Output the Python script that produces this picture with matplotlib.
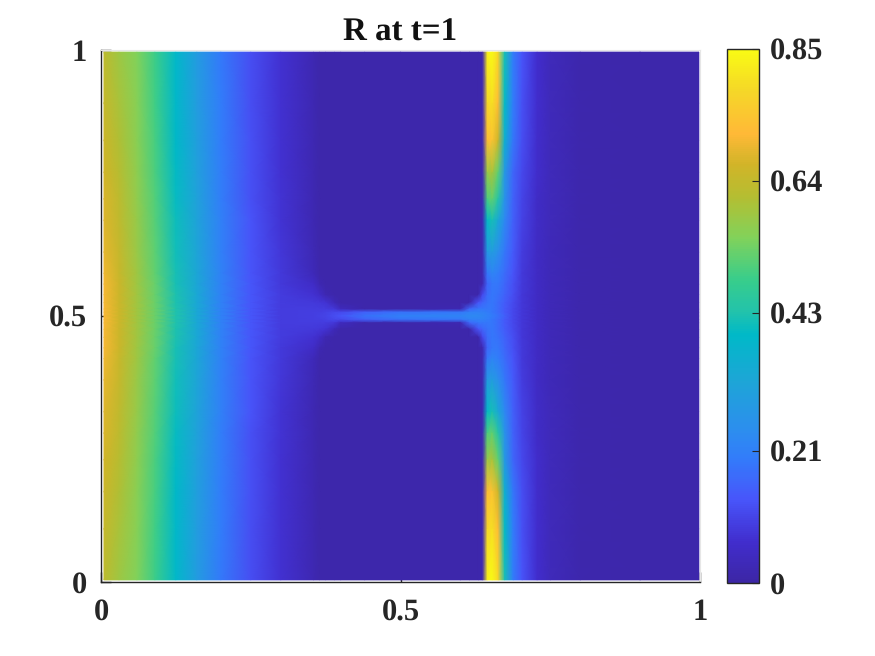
import numpy as np
import matplotlib.pyplot as plt
from matplotlib.colors import LinearSegmentedColormap

plt.rcParams['font.family'] = ['Liberation Serif', 'DejaVu Serif']
plt.rcParams['font.weight'] = 'bold'
plt.rcParams['text.hinting'] = 'no_hinting'

# Node positions
x_nodes = [0.005, 0.03, 0.06, 0.09, 0.125, 0.16, 0.2, 0.25, 0.3, 0.355,
           0.365, 0.375, 0.39, 0.40, 0.44, 0.5, 0.60, 0.615, 0.63, 0.637,
           0.645, 0.653, 0.663, 0.674, 0.688, 0.703, 0.728, 0.75, 0.8, 0.9, 0.998]
y_upper = [0.996, 0.9, 0.83, 0.77, 0.72, 0.68, 0.62, 0.58, 0.56, 0.54,
           0.525, 0.513, 0.507, 0.5]

# R values, top row down to the y=0.5 line (the lower half mirrors it)
R_upper = [
    [.63, .585, .55, .485, .39, .29, .195, .12, .07, .02, .01, .01, .01, .01, .01, .01, .01, .01, .01, .02, .83, .85, .78, .42, .20, .13, .065, .035, .015, .01, .01],
    [.645, .60, .555, .49, .39, .295, .20, .12, .07, .02, .01, .01, .01, .01, .01, .01, .01, .01, .01, .02, .78, .80, .72, .40, .20, .125, .065, .035, .015, .01, .01],
    [.655, .61, .56, .495, .395, .30, .20, .125, .07, .02, .01, .01, .01, .01, .01, .01, .01, .01, .01, .02, .72, .74, .66, .36, .19, .12, .06, .035, .015, .01, .01],
    [.665, .62, .565, .50, .40, .305, .205, .125, .07, .02, .01, .01, .01, .01, .01, .01, .01, .01, .01, .02, .58, .60, .52, .28, .16, .11, .06, .035, .015, .01, .01],
    [.675, .63, .57, .505, .405, .31, .205, .125, .075, .02, .01, .01, .01, .01, .01, .01, .01, .01, .01, .02, .50, .52, .44, .26, .155, .105, .055, .035, .015, .01, .01],
    [.68, .635, .575, .51, .41, .315, .21, .13, .075, .02, .01, .01, .01, .01, .01, .01, .01, .01, .01, .02, .40, .42, .33, .23, .15, .10, .055, .035, .015, .01, .01],
    [.69, .645, .58, .515, .415, .32, .21, .13, .08, .025, .01, .01, .01, .01, .01, .01, .01, .01, .01, .02, .28, .29, .25, .19, .14, .09, .05, .03, .015, .01, .01],
    [.70, .65, .585, .52, .42, .325, .215, .13, .085, .03, .01, .01, .01, .01, .01, .01, .01, .01, .01, .02, .19, .22, .20, .17, .13, .085, .05, .03, .015, .01, .01],
    [.705, .655, .585, .525, .42, .325, .215, .135, .085, .055, .02, .01, .01, .01, .01, .01, .01, .01, .01, .02, .16, .19, .19, .16, .125, .085, .05, .03, .015, .01, .01],
    [.705, .655, .59, .525, .425, .33, .215, .135, .09, .07, .055, .02, .01, .01, .01, .01, .01, .01, .01, .11, .17, .19, .18, .155, .12, .08, .05, .03, .015, .01, .01],
    [.705, .655, .59, .53, .425, .33, .215, .135, .09, .085, .08, .075, .03, .01, .01, .01, .01, .01, .13, .16, .18, .19, .17, .145, .115, .08, .05, .03, .015, .01, .01],
    [.71, .66, .59, .53, .43, .33, .215, .135, .09, .09, .09, .09, .08, .04, .01, .01, .02, .16, .19, .19, .19, .19, .17, .14, .11, .08, .05, .03, .015, .01, .01],
    [.71, .66, .59, .53, .43, .33, .215, .135, .09, .095, .095, .10, .11, .11, .15, .18, .19, .21, .21, .21, .20, .19, .17, .14, .11, .08, .05, .03, .015, .01, .01],
    [.71, .66, .59, .53, .43, .33, .215, .135, .09, .095, .10, .105, .12, .13, .18, .21, .22, .23, .23, .22, .21, .20, .18, .15, .11, .08, .05, .03, .015, .01, .01],
]

x_ticks = [0, 0.5, 1]
x_tick_labels = ['0', '0.5', '1']
y_ticks = [0, 0.5, 1]
y_tick_labels = ['0', '0.5', '1']
cbar_ticks = [0, 0.21, 0.43, 0.64, 0.85]
cbar_tick_labels = ['0', '0.21', '0.43', '0.64', '0.85']

# colormap stops
cmap_stops = [0.0, 0.075, 0.155, 0.235, 0.28, 0.375, 0.465, 0.51, 0.567, 0.648, 0.723, 0.786, 0.843, 0.923, 1.0]
cmap_colors = ['#3c26a5', '#412dcd', '#4855fa', '#327dfa', '#2d8cf0', '#1ea5d7', '#00b9c8',
               '#23c3aa', '#37cd8c', '#82d25a', '#b4be32', '#d2b428', '#ffb937', '#f5d728', '#f9fb14']
parula = LinearSegmentedColormap.from_list('parula', list(zip(cmap_stops, cmap_colors)), N=256)

upper = np.array(R_upper)
R = np.vstack([upper, upper[-2::-1]])
y_nodes = np.array(y_upper + [1 - v for v in y_upper[-2::-1]])

dark = '#262626'
fig = plt.figure(figsize=(8.75, 6.56), dpi=100)
ax = fig.add_axes([101 / 875, 74 / 656, 599 / 875, 532 / 656])
mesh = ax.pcolormesh(x_nodes, y_nodes, R, cmap=parula, vmin=0, vmax=0.85,
                     shading='gouraud')
ax.set_xlim(0, 1)
ax.set_ylim(0, 1)
ax.set_axisbelow(True)
ax.set_xticks(x_ticks, x_tick_labels)
ax.set_yticks(y_ticks, y_tick_labels)
ax.tick_params(direction='in', length=7, width=1, labelsize=22, colors=dark)
ax.tick_params(axis='x', pad=12)
ax.tick_params(axis='y', pad=10)
ax.spines['top'].set_color('#e6e6e6')
ax.spines['right'].set_color('#e6e6e6')
ax.spines['left'].set_color(dark)
ax.spines['bottom'].set_color(dark)
ax.spines['left'].set_linewidth(1)
ax.spines['bottom'].set_linewidth(1)
ax.set_title('R at t=1', fontsize=23.8, fontweight='bold', color='#111111', pad=7)

cax = fig.add_axes([727 / 875, 73 / 656, 32 / 875, 534 / 656])
cbar = fig.colorbar(mesh, cax=cax, ticks=cbar_ticks)
cbar.ax.set_yticklabels(cbar_tick_labels)
cbar.ax.tick_params(direction='in', length=5, width=0.8, labelsize=22, colors=dark, pad=8)
cbar.outline.set_edgecolor(dark)
cbar.outline.set_linewidth(1)

fig.savefig('out.png', dpi=100)
